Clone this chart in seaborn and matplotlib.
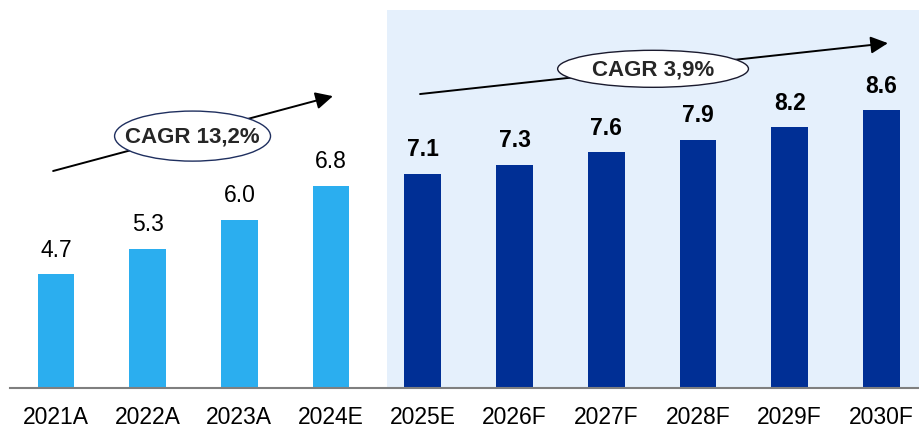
import matplotlib
matplotlib.use("Agg")
import matplotlib.pyplot as plt
from matplotlib.patches import Ellipse, Rectangle
import seaborn as sns
import pandas as pd

categories = ["2021A", "2022A", "2023A", "2024E", "2025E", "2026F", "2027F", "2028F", "2029F", "2030F"]
values = [4.7, 5.3, 6.0, 6.8, 7.1, 7.3, 7.6, 7.9, 8.2, 8.6]
labels = ["4.7", "5.3", "6.0", "6.8", "7.1", "7.3", "7.6", "7.9", "8.2", "8.6"]
forecast = [False, False, False, False, True, True, True, True, True, True]
cagr_labels = ["CAGR 13,2%", "CAGR 3,9%"]

LIGHT = "#2BAEEF"
DARK = "#002F95"
SHADE = "#E5F0FC"

sns.set_theme(style="white")
plt.rcParams["font.family"] = ["Liberation Sans", "DejaVu Sans"]

df = pd.DataFrame({"cat": categories, "val": values, "fc": forecast})
palette = {c: (DARK if f else LIGHT) for c, f in zip(categories, forecast)}

fig = plt.figure(figsize=(9.2, 4.27), dpi=100)
ax = fig.add_axes([10 / 920, 38 / 427, 910 / 920, 389 / 427])

sns.barplot(data=df, x="cat", y="val", hue="cat", palette=palette, width=0.4,
            legend=False, ax=ax, zorder=2, saturation=1, linewidth=0)

ax.set_xlim(-0.5, 9.42)
ax.set_ylim(2, 11.25)

# forecast shaded region
ax.add_patch(Rectangle((3.61, 2), 6.0, 9.0, facecolor=SHADE, edgecolor="none", zorder=0))

for i, (v, lab, f) in enumerate(zip(values, labels, forecast)):
    ax.annotate(lab, (i, v), xytext=(0, 13.5), textcoords="offset points",
                ha="center", va="baseline", fontsize=16.5,
                fontweight="bold" if f else "normal", color="black", zorder=5)

# CAGR arrows
ax.annotate("", xy=(3.02, 8.94), xytext=(-0.03, 7.16),
            arrowprops=dict(arrowstyle="-|>", mutation_scale=26, lw=1.4, color="black",
                            shrinkA=0, shrinkB=0), zorder=3)
ax.annotate("", xy=(9.07, 10.2), xytext=(3.97, 8.99),
            arrowprops=dict(arrowstyle="-|>", mutation_scale=26, lw=1.4, color="black",
                            shrinkA=0, shrinkB=0), zorder=3)

ax.add_patch(Ellipse((1.49, 7.99), 1.70, 1.19, facecolor="white", edgecolor="#1F2F5F",
                     lw=1.0, zorder=4))
ax.text(1.49, 7.99, cagr_labels[0], ha="center", va="center", fontsize=16,
        fontweight="bold", zorder=5)
ax.add_patch(Ellipse((6.51, 9.59), 2.08, 0.88, facecolor="white", edgecolor="#1A1A2E",
                     lw=1.0, zorder=4))
ax.text(6.51, 9.59, cagr_labels[1], ha="center", va="center", fontsize=16,
        fontweight="bold", zorder=5)

for s in ["top", "right", "left"]:
    ax.spines[s].set_visible(False)
ax.spines["bottom"].set_color("#7F7F7F")
ax.spines["bottom"].set_linewidth(1.5)
ax.spines["bottom"].set_zorder(6)
ax.set_yticks([])
ax.set_xlabel("")
ax.set_ylabel("")
ax.tick_params(axis="x", length=0, pad=12, labelsize=16.5, labelcolor="black")
ax.patch.set_alpha(0)

fig.savefig("out.png", dpi=100)
